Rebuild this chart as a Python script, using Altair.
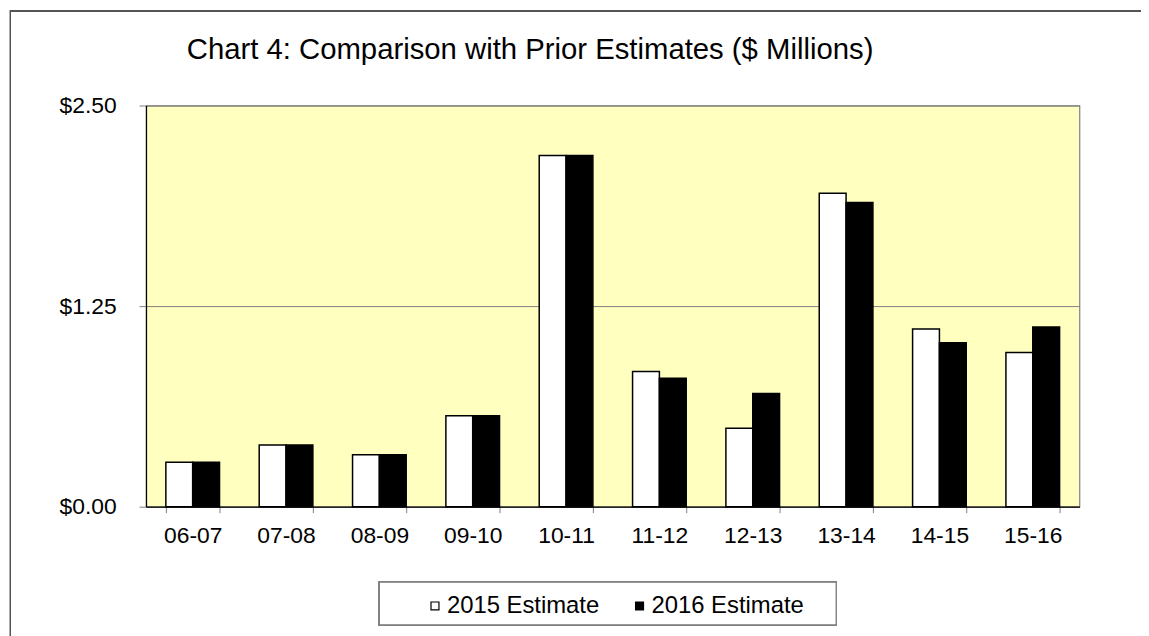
import altair as alt
import pandas as pd

years = ["06-07", "07-08", "08-09", "09-10", "10-11", "11-12", "12-13", "13-14", "14-15", "15-16"]
est_2015 = [0.277, 0.384, 0.324, 0.567, 2.189, 0.843, 0.489, 1.953, 1.108, 0.961]
est_2016 = [0.277, 0.384, 0.324, 0.567, 2.189, 0.800, 0.705, 1.896, 1.021, 1.120]
series = ["2015 Estimate", "2016 Estimate"]
y_ticks = [0, 1.25, 2.5]

rows = []
for i, yr in enumerate(years):
    rows.append({"year": yr, "series": series[0], "value": est_2015[i]})
    rows.append({"year": yr, "series": series[1], "value": est_2016[i]})
df = pd.DataFrame(rows)

FONT = "Liberation Sans"

bars = alt.Chart(df).mark_bar(stroke="black", strokeWidth=1.5).encode(
    x=alt.X("year:N", sort=years,
            scale=alt.Scale(paddingInner=0.425, paddingOuter=0.2125),
            axis=alt.Axis(title=None, labelAngle=0, labelFontSize=23, labelFont=FONT,
                          labelColor="black", labelPadding=12,
                          tickBand="extent", tickColor="#808080", tickSize=6,
                          domainColor="black", domainWidth=1.2)),
    xOffset=alt.XOffset("series:N", sort=series,
                        scale=alt.Scale(paddingInner=0, paddingOuter=0)),
    y=alt.Y("value:Q", scale=alt.Scale(domain=[0, 2.5], nice=False),
            axis=alt.Axis(title=None, values=y_ticks, format="$.2f",
                          labelFontSize=23, labelFont=FONT, labelColor="black",
                          labelPadding=23, tickColor="#808080", tickSize=7,
                          domainColor="black", domainWidth=1.2,
                          grid=True, gridColor="#808080", gridWidth=1)),
    fill=alt.Fill("series:N", sort=series,
                  scale=alt.Scale(domain=series, range=["white", "black"]),
                  legend=alt.Legend(title=None, orient="none", legendX=279, legendY=492,
                                    direction="horizontal", symbolType="square",
                                    symbolSize=64, symbolStrokeColor="black",
                                    symbolStrokeWidth=1.2,
                                    labelFontSize=24, labelFont=FONT, labelColor="black",
                                    labelOffset=0, columnPadding=28,
                                    padding=0)),
)

legend_box = alt.Chart(df).mark_rect(fill="white", stroke="#808080", strokeWidth=1.2).encode(
    x=alt.value(235), x2=alt.value(695), y=alt.value(480), y2=alt.value(523)
)

frame_left = alt.Chart(df).mark_rule(color="#555555", strokeWidth=1).encode(
    x=alt.value(-136.5), y=alt.value(-96), y2=alt.value(540)
)
frame_top = alt.Chart(df).mark_rule(color="#555555", strokeWidth=1).encode(
    x=alt.value(-136.5), x2=alt.value(1010), y=alt.value(-95.5)
)

chart = alt.layer(bars, legend_box, frame_left, frame_top).properties(
    width=940,
    height=404,
    title=alt.TitleParams(
        "Chart 4: Comparison with Prior Estimates ($ Millions)",
        anchor="start", frame="group", dx=41, offset=0, dy=79,
        fontSize=29.5, font=FONT, fontWeight="normal", color="black",
        baseline="alphabetic",
    ),
    autosize=alt.AutoSizeParams(type="none"),
    padding={"left": 139, "top": 96, "right": 62, "bottom": 128},
).configure(
    background="white",
    view=alt.ViewConfig(fill="#FFFFC0", stroke="#808080", strokeWidth=1.2),
)

chart.save("out.html", embed_options={"renderer": "svg", "actions": False})
